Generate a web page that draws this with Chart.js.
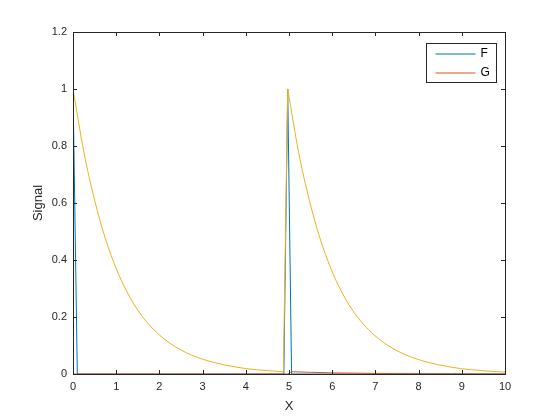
<!DOCTYPE html>
<html>
<head>
<meta charset="utf-8">
<script src="https://cdn.jsdelivr.net/npm/chart.js@4"></script>
<style>
  body { margin: 0; background: #fff; }
  #wrap { width: 560px; height: 420px; }
</style>
</head>
<body>
<div id="wrap"><canvas id="signalChart" width="560" height="420"></canvas></div>
<script>
// values
var fX = [0, 0.1, 4.88, 4.97, 5.06, 10];
var fY = [1, 0, 0, 1, 0, 0];

var gX = [0, 4.97, 5.06, 5.5, 6, 6.5, 7, 8, 9, 10];
var gY = [0, 0, 0.008, 0.006, 0.004, 0.003, 0.002, 0.001, 0.0005, 0];

var hX1 = [0, 0.25, 0.5, 0.75, 1, 1.25, 1.5, 1.75, 2, 2.25, 2.5, 2.75, 3, 3.25, 3.5, 3.75, 4, 4.25, 4.5, 4.75, 4.87];
var hY1 = [1, 0.78, 0.61, 0.475, 0.37, 0.288, 0.224, 0.175, 0.137, 0.107, 0.084, 0.066, 0.052, 0.041, 0.032, 0.025, 0.019, 0.015, 0.012, 0.009, 0.008];
var hX2 = [4.97, 5.22, 5.47, 5.72, 5.97, 6.22, 6.47, 6.72, 6.97, 7.22, 7.47, 7.72, 7.97, 8.22, 8.47, 8.72, 8.97, 9.22, 9.47, 9.72, 9.97, 10];
var hY2 = [1, 0.78, 0.61, 0.475, 0.37, 0.288, 0.224, 0.175, 0.137, 0.107, 0.084, 0.066, 0.052, 0.041, 0.032, 0.025, 0.019, 0.015, 0.012, 0.009, 0.007, 0.007];

var xTicks = [0, 1, 2, 3, 4, 5, 6, 7, 8, 9, 10];
var yTicks = [0, 0.2, 0.4, 0.6, 0.8, 1, 1.2];
var legendNames = ['F', 'G'];

var axisColor = '#262626';
var colors = ['#0072BD', '#D95319', '#EDB120'];
var fontFamily = '"Liberation Sans", Arial, sans-serif';

function toPoints(xs, ys) {
  return xs.map(function(x, i) { return { x: x, y: ys[i] }; });
}

// box round the plot plus inward ticks, like the original
var boxPlugin = {
  id: 'box',
  afterDraw: function(chart) {
    var c = chart.ctx, a = chart.chartArea;
    var xs = chart.scales.x, ys = chart.scales.y;
    c.save();
    c.strokeStyle = axisColor;
    c.lineWidth = 1;
    c.strokeRect(Math.round(a.left) + 0.5, Math.round(a.top) + 0.5, Math.round(a.right - a.left), Math.round(a.bottom - a.top));
    c.beginPath();
    xTicks.forEach(function(t) {
      var px = Math.round(xs.getPixelForValue(t)) + 0.5;
      c.moveTo(px, a.bottom); c.lineTo(px, a.bottom - 4);
      c.moveTo(px, a.top); c.lineTo(px, a.top + 4);
    });
    yTicks.forEach(function(t) {
      var py = Math.round(ys.getPixelForValue(t)) + 0.5;
      c.moveTo(a.left, py); c.lineTo(a.left + 4, py);
      c.moveTo(a.right, py); c.lineTo(a.right - 4, py);
    });
    c.stroke();

    // legend box in the top right corner
    var bx = Math.round(a.right) - 78.5, by = Math.round(a.top) + 11.5, bw = 70, bh = 39;
    c.fillStyle = '#fff';
    c.fillRect(bx, by, bw, bh);
    c.strokeRect(bx, by, bw, bh);
    c.font = '12px ' + fontFamily;
    c.textBaseline = 'middle';
    legendNames.forEach(function(name, i) {
      var ly = by + 10.5 + i * 19;
      c.strokeStyle = colors[i];
      c.beginPath();
      c.moveTo(bx + 9, ly); c.lineTo(bx + 49, ly);
      c.stroke();
      c.fillStyle = '#000';
      c.fillText(name, bx + 54, ly);
    });
    c.restore();
  }
};

var ctx = document.getElementById('signalChart').getContext('2d');
var chart = new Chart(ctx, {
  type: 'line',
  data: {
    datasets: [
      { label: 'F', data: toPoints(fX, fY), borderColor: colors[0], order: 3 },
      { label: 'G', data: toPoints(gX, gY), borderColor: colors[1], order: 2 },
      { label: '', data: toPoints(hX1, hY1), borderColor: colors[2], order: 0, cubicInterpolationMode: 'monotone' },
      { label: '', data: toPoints(hX2, hY2), borderColor: colors[2], order: 0, cubicInterpolationMode: 'monotone' },
      { label: '', data: toPoints([hX1[hX1.length - 1], hX2[0]], [hY1[hY1.length - 1], hY2[0]]), borderColor: colors[2], order: 1 }
    ]
  },
  options: {
    responsive: false,
    animation: false,
    events: [],
    elements: {
      line: { borderWidth: 1, tension: 0, fill: false },
      point: { radius: 0 }
    },
    layout: { padding: { left: 27, top: 32, right: 55, bottom: 2 } },
    plugins: { legend: { display: false }, tooltip: { enabled: false } },
    scales: {
      x: {
        type: 'linear',
        min: 0, max: 10,
        afterBuildTicks: function(s) { s.ticks = xTicks.map(function(v) { return { value: v }; }); },
        afterFit: function(s) { s.height = 44; },
        grid: { display: false, drawTicks: false },
        border: { display: false },
        ticks: { color: axisColor, padding: 6, maxRotation: 0, font: { family: fontFamily, size: 11 },
                 callback: function(v) { return String(v); } },
        title: { display: true, text: 'X', color: axisColor, font: { family: fontFamily, size: 13 } }
      },
      y: {
        type: 'linear',
        min: 0, max: 1.2,
        afterBuildTicks: function(s) { s.ticks = yTicks.map(function(v) { return { value: v }; }); },
        afterFit: function(s) { s.width = 46; },
        grid: { display: false, drawTicks: false },
        border: { display: false },
        ticks: { color: axisColor, padding: 6, font: { family: fontFamily, size: 11 },
                 callback: function(v) { return String(v); } },
        title: { display: true, text: 'Signal', color: axisColor, font: { family: fontFamily, size: 13 } }
      }
    }
  },
  plugins: [boxPlugin]
});
</script>
</body>
</html>
